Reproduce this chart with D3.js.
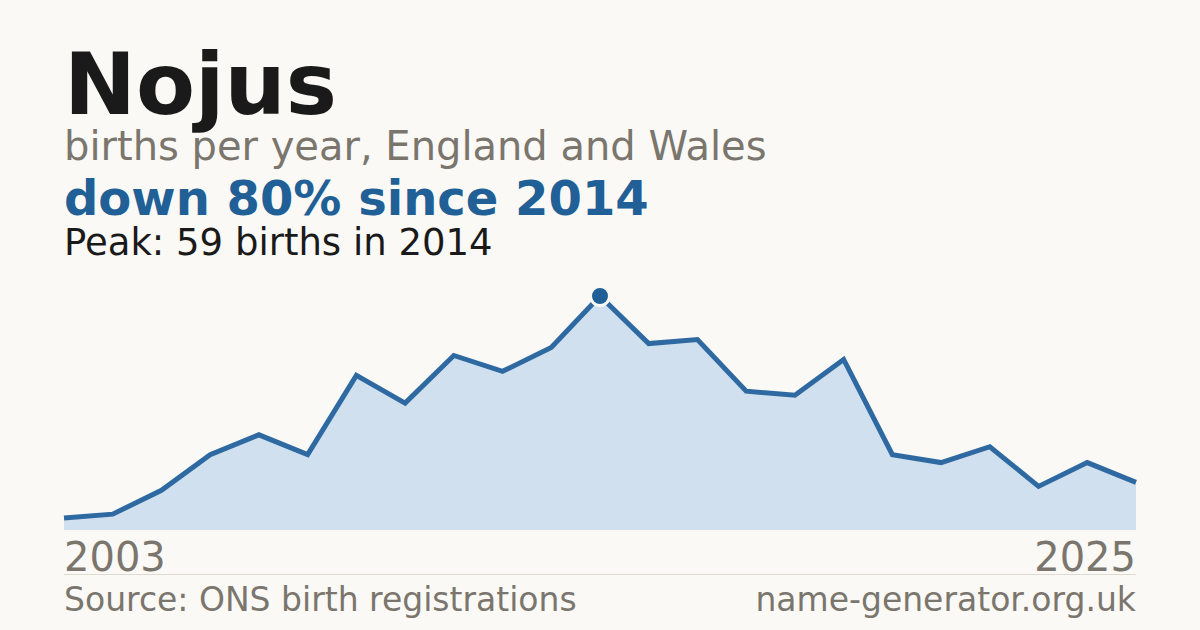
<!DOCTYPE html>
<html>
<head>
<meta charset="utf-8">
<script src="https://cdn.jsdelivr.net/npm/d3@7"></script>
<style>
  html, body { margin: 0; padding: 0; background: #faf9f5; }
  svg { display: block; font-family: "DejaVu Sans", sans-serif; }
</style>
</head>
<body>
<div id="chart"></div>
<script>
// data
var years = [2003, 2004, 2005, 2006, 2007, 2008, 2009, 2010, 2011, 2012, 2013, 2014,
             2015, 2016, 2017, 2018, 2019, 2020, 2021, 2022, 2023, 2024, 2025];
var births = [3, 4, 10, 19, 24, 19, 39, 32, 44, 40, 46, 59,
              47, 48, 35, 34, 43, 19, 17, 21, 11, 17, 12];
var titleText = "Nojus";
var subtitleText = "births per year, England and Wales";
var headlineText = "down 80% since 2014";
var peakText = "Peak: 59 births in 2014";
var sourceText = "Source: ONS birth registrations";
var siteText = "name-generator.org.uk";

var W = 1200, H = 630;
var margin = {left: 64, right: 64};
var plotTop = 296, plotBottom = 530;

var svg = d3.select("#chart").append("svg")
    .attr("width", W)
    .attr("height", H);

svg.append("rect").attr("width", W).attr("height", H).attr("fill", "#faf9f5");

// header texts
svg.append("text").attr("x", 64).attr("y", 114)
    .style("font-size", "86px").style("font-weight", "bold").attr("fill", "#1a1a1a")
    .text(titleText);
svg.append("text").attr("x", 64).attr("y", 160)
    .style("font-size", "40px").attr("fill", "#7a766e")
    .text(subtitleText);
svg.append("text").attr("x", 64).attr("y", 215)
    .style("font-size", "48px").style("font-weight", "bold").attr("fill", "#206096")
    .text(headlineText);
svg.append("text").attr("x", 64).attr("y", 255)
    .style("font-size", "37px").attr("fill", "#1a1a1a")
    .text(peakText);

// scales
var x = d3.scaleLinear()
    .domain(d3.extent(years))
    .range([margin.left, W - margin.right]);
var y = d3.scaleLinear()
    .domain([0, d3.max(births)])
    .range([plotBottom, plotTop]);

var pts = years.map(function(d, i) { return {year: d, v: births[i]}; });

svg.append("path")
    .datum(pts)
    .attr("fill", "#d0e0ef")
    .attr("d", d3.area()
        .x(function(d) { return x(d.year); })
        .y0(plotBottom)
        .y1(function(d) { return y(d.v); }));

svg.append("path")
    .datum(pts)
    .attr("fill", "none")
    .attr("stroke", "#2e6aa1")
    .attr("stroke-width", 5)
    .attr("stroke-linejoin", "miter")
    .attr("d", d3.line()
        .x(function(d) { return x(d.year); })
        .y(function(d) { return y(d.v); }));

// peak marker
var peakIdx = births.indexOf(d3.max(births));
svg.append("circle")
    .attr("cx", x(years[peakIdx]))
    .attr("cy", y(births[peakIdx]))
    .attr("r", 9.5)
    .attr("fill", "#206096")
    .attr("stroke", "#faf9f5")
    .attr("stroke-width", 3);

// year labels
svg.append("text").attr("x", x(years[0])).attr("y", 571)
    .style("font-size", "40px").attr("fill", "#7a766e")
    .text(years[0]);
svg.append("text").attr("x", x(years[years.length - 1])).attr("y", 571)
    .attr("text-anchor", "end")
    .style("font-size", "40px").attr("fill", "#7a766e")
    .text(years[years.length - 1]);

// divider
svg.append("line")
    .attr("x1", 64).attr("x2", W - 64)
    .attr("y1", 574.5).attr("y2", 574.5)
    .attr("stroke", "#dedad2").attr("stroke-width", 1);

// footer
svg.append("text").attr("x", 64).attr("y", 611)
    .style("font-size", "33px").attr("fill", "#7a766e")
    .text(sourceText);
svg.append("text").attr("x", W - 64).attr("y", 611)
    .attr("text-anchor", "end")
    .style("font-size", "33px").attr("fill", "#7a766e")
    .text(siteText);
</script>
</body>
</html>
